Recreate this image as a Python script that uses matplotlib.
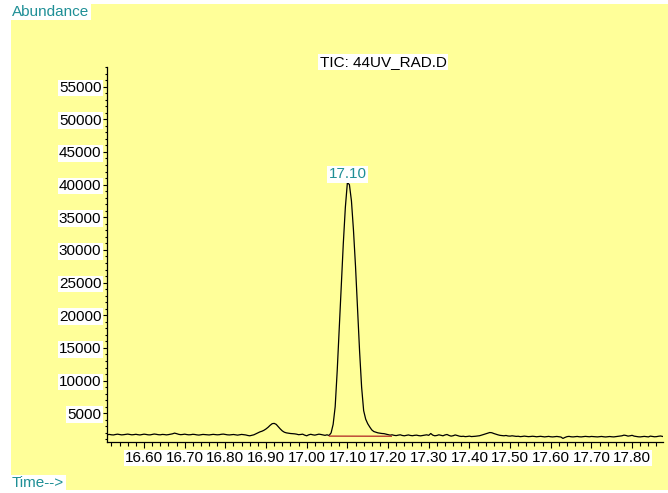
import numpy as np
import matplotlib.pyplot as plt
from matplotlib.patches import Rectangle
from matplotlib.ticker import MultipleLocator, FormatStrFormatter

plt.rcParams['font.family'] = ['Liberation Sans', 'DejaVu Sans']

# ---- TIC trace, one scan every 0.005 min starting at 16.510 min ----
t_start = 16.510
t_step = 0.005
abundance = [
    1720, 1760, 1700, 1680, 1750, 1800, 1740, 1690, 1720, 1770,
    1810, 1750, 1700, 1730, 1780, 1720, 1680, 1740, 1800, 1760,
    1700, 1690, 1750, 1820, 1780, 1720, 1700, 1760, 1740, 1690,
    1730, 1790, 1850, 1960, 1880, 1780, 1720, 1750, 1800, 1740,
    1700, 1720, 1780, 1750, 1690, 1660, 1710, 1760, 1730, 1700,
    1680, 1720, 1770, 1740, 1700, 1720, 1780, 1810, 1760, 1700,
    1680, 1720, 1750, 1700, 1650, 1700, 1760, 1720, 1680, 1600,
    1550, 1620, 1700, 1850, 2000, 2150, 2250, 2400, 2600, 2850,
    3150, 3400, 3450, 3300, 2950, 2600, 2300, 2100, 2000, 1950,
    1900, 1880, 1850, 1800, 1720, 1750, 1800, 1650, 1550, 1700,
    1780, 1700, 1650, 1720, 1800, 1750, 1680, 1620, 1700, 1600,
    2000, 3300, 6000, 11500, 18000, 24500, 31000, 36500, 40300, 40000,
    37500, 33000, 27500, 21000, 14500, 9000, 5400, 4100, 3400, 2900,
    2450, 2200, 2100, 2000, 1950, 1900, 1880, 1800, 1720, 1650,
    1700, 1620, 1580, 1650, 1700, 1600, 1550, 1620, 1680, 1600,
    1560, 1620, 1650, 1580, 1540, 1600, 1650, 1700, 1620, 1900,
    1650, 1550, 1600, 1700, 1620, 1550, 1680, 1750, 1600, 1500,
    1560, 1680, 1600, 1500, 1450, 1480, 1420, 1450, 1500, 1430,
    1450, 1480, 1520, 1560, 1650, 1750, 1850, 1950, 2050, 2020,
    1900, 1800, 1700, 1620, 1580, 1550, 1600, 1520, 1500, 1550,
    1500, 1460, 1480, 1420, 1450, 1500, 1460, 1420, 1440, 1480,
    1450, 1400, 1430, 1470, 1420, 1380, 1420, 1460, 1400, 1380,
    1420, 1450, 1400, 1360, 1150, 1300, 1420, 1460, 1400, 1380,
    1420, 1450, 1400, 1380, 1420, 1460, 1430, 1400, 1450, 1420,
    1400, 1380, 1420, 1450, 1400, 1370, 1410, 1440, 1400, 1380,
    1420, 1460, 1500, 1550, 1650, 1600, 1500, 1550, 1620, 1500,
    1450, 1400, 1380, 1420, 1460, 1420, 1380, 1500, 1450, 1400,
    1420, 1480, 1520, 1450,
]
time = t_start + t_step * np.arange(len(abundance))

# integration baseline under the main peak
base_t = [17.056, 17.208]
base_y = [1500, 1480]

x_ticks = [16.60, 16.70, 16.80, 16.90, 17.00, 17.10, 17.20,
           17.30, 17.40, 17.50, 17.60, 17.70, 17.80]
y_ticks = [5000, 10000, 15000, 20000, 25000, 30000,
           35000, 40000, 45000, 50000, 55000]

teal = '#1f8f96'
paper = '#ffff99'
W, H = 668, 493

fig = plt.figure(figsize=(W / 100, H / 100), dpi=100)
fig.patch.set_facecolor('white')
fig.patches.append(Rectangle((11 / W, 1 - 490 / H), (W - 11) / W, 486 / H,
                             transform=fig.transFigure, facecolor=paper,
                             edgecolor='none', zorder=-10))

ax = fig.add_axes([107 / W, 1 - 442 / H, 556 / W, 375 / H])
ax.set_facecolor('none')
ax.plot(time, abundance, color='black', lw=0.9)
ax.plot(base_t, base_y, color='#b83a2e', lw=1.0)

ax.set_xlim(16.509, 17.876)
ax.set_ylim(600, 58000)
ax.set_xticks(x_ticks)
ax.set_yticks(y_ticks)
ax.xaxis.set_minor_locator(MultipleLocator(0.02))
ax.yaxis.set_minor_locator(MultipleLocator(1000))
ax.xaxis.set_major_formatter(FormatStrFormatter('%.2f'))
ax.yaxis.set_major_formatter(FormatStrFormatter('%d'))

for s in ['top', 'right']:
    ax.spines[s].set_visible(False)
for s in ['left', 'bottom']:
    ax.spines[s].set_linewidth(0.9)

ax.tick_params(axis='x', which='major', length=4.5, width=0.8, pad=2, labelsize=11)
ax.tick_params(axis='x', which='minor', length=3, width=0.8)
ax.tick_params(axis='y', which='major', length=3, width=0.8, pad=1, labelsize=11)
ax.tick_params(axis='y', which='minor', length=1.5, width=0.8)

# peak retention time label
i_max = int(np.argmax(abundance))
ax.annotate('17.10', xy=(time[i_max], abundance[i_max]), xytext=(0, 1),
            textcoords='offset points', ha='center', va='bottom',
            color=teal, fontsize=11,
            bbox=dict(facecolor='white', edgecolor='none', pad=1))

box = dict(facecolor='white', edgecolor='none', pad=1)
fig.text(383 / W, 1 - 62 / H, 'TIC: 44UV_RAD.D', ha='center', va='center',
         fontsize=11, bbox=box)
fig.text(12 / W, 1 - 12 / H, 'Abundance', ha='left', va='center',
         fontsize=11, color=teal, bbox=box)
fig.text(12 / W, 1 - 483 / H, 'Time-->', ha='left', va='center',
         fontsize=11, color=teal, bbox=box)

fig.canvas.draw()
for lbl in ax.get_xticklabels() + ax.get_yticklabels():
    lbl.set_bbox(dict(facecolor='white', edgecolor='none', pad=1))

fig.savefig('out.png', dpi=100, facecolor=fig.get_facecolor())
